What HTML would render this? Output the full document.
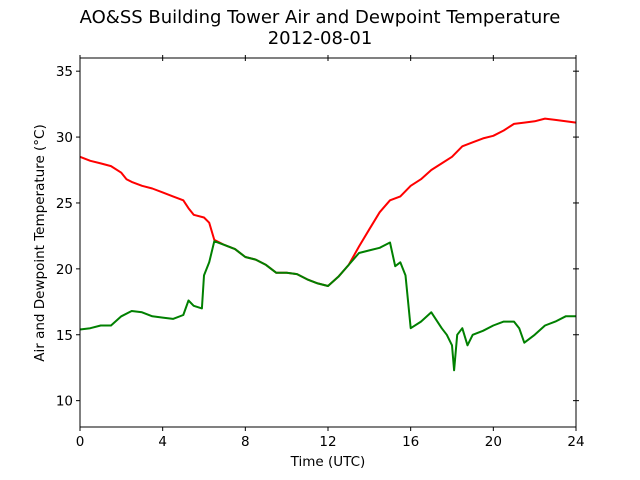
<!DOCTYPE html>
<html><head><meta charset="utf-8"><style>
body{margin:0;background:#fff}
svg{display:block;font-family:"DejaVu Sans","Liberation Sans",sans-serif}
</style></head><body>
<svg id="chart" width="640" height="480" viewBox="0 0 640 480">
<rect width="640" height="480" fill="#fff"/>
<text x="320" y="23" text-anchor="middle" font-size="18">AO&amp;SS Building Tower Air and Dewpoint Temperature</text>
<text x="320" y="44" text-anchor="middle" font-size="18">2012-08-01</text>
<g id="plot"></g>
<text x="328" y="466" text-anchor="middle" font-size="13.5">Time (UTC)</text>
<text transform="translate(44,243) rotate(-90)" text-anchor="middle" font-size="13.5">Air and Dewpoint Temperature (°C)</text>
</svg>
<script>
const airTimes=[0,0.5,1,1.5,2,2.25,2.5,3,3.5,4,4.5,5,5.25,5.5,6,6.25,6.5,7,7.5,8,8.5,9,9.5,10,10.5,11,11.5,12,12.5,13,13.5,14,14.5,15,15.5,16,16.5,17,17.5,18,18.5,19,19.5,20,20.5,21,21.5,22,22.5,23,23.5,24];
const airValues=[28.5,28.2,28.0,27.8,27.3,26.8,26.6,26.3,26.1,25.8,25.5,25.2,24.6,24.1,23.9,23.5,22.2,21.8,21.5,20.9,20.7,20.3,19.7,19.7,19.6,19.2,18.9,18.7,19.4,20.3,21.7,23.0,24.3,25.2,25.5,26.3,26.8,27.5,28.0,28.5,29.3,29.6,29.9,30.1,30.5,31.0,31.1,31.2,31.4,31.3,31.2,31.1];
const dewTimes=[0,0.5,1,1.5,2,2.5,3,3.5,4,4.5,5,5.25,5.5,5.9,6,6.25,6.5,7,7.5,8,8.5,9,9.5,10,10.5,11,11.5,12,12.5,13,13.5,14,14.5,15,15.25,15.5,15.75,16,16.5,17,17.5,17.75,18,18.1,18.25,18.5,18.75,19,19.5,20,20.5,21,21.25,21.5,22,22.5,23,23.5,24];
const dewValues=[15.4,15.5,15.7,15.7,16.4,16.8,16.7,16.4,16.3,16.2,16.5,17.6,17.2,17.0,19.5,20.5,22.1,21.8,21.5,20.9,20.7,20.3,19.7,19.7,19.6,19.2,18.9,18.7,19.4,20.3,21.2,21.4,21.6,22.0,20.2,20.5,19.5,15.5,16.0,16.7,15.5,15.0,14.2,12.3,15.0,15.5,14.2,15.0,15.3,15.7,16.0,16.0,15.5,14.4,15.0,15.7,16.0,16.4,16.4];
const xTicks=[0,4,8,12,16,20,24];
const yTicks=[10,15,20,25,30,35];
const X0=80,X1=576,Y0=427,Y1=58,xmin=0,xmax=24,ymin=8,ymax=36;
const sx=v=>X0+(v-xmin)/(xmax-xmin)*(X1-X0);
const sy=v=>Y0-(v-ymin)/(ymax-ymin)*(Y0-Y1);
const NS='http://www.w3.org/2000/svg';
const g=document.getElementById('plot');
function mk(t,a){const e=document.createElementNS(NS,t);for(const k in a)e.setAttribute(k,a[k]);g.appendChild(e);return e;}
function line(ts,vs,c,name){
  const d=ts.map((t,i)=>(i?'L':'M')+sx(t).toFixed(1)+','+sy(vs[i]).toFixed(1)).join('');
  const p=mk('path',{d:d,fill:'none',stroke:c,'stroke-width':2,'stroke-linejoin':'round'});
  
  
}
line(airTimes,airValues,'#ff0000','air-temperature-line');
line(dewTimes,dewValues,'#008000','dewpoint-line');
const fr=mk('rect',{x:X0,y:Y1,width:X1-X0,height:Y0-Y1,fill:'none',stroke:'#000','stroke-width':1});


xTicks.forEach(v=>{
  const x=sx(v);
  const t=mk('line',{x1:x,x2:x,y1:Y0,y2:Y0+4,stroke:'#000'});
  
  
  const t2=mk('line',{x1:x,x2:x,y1:Y1-3,y2:Y1+3,stroke:'#000'});
  
  
  const l=mk('text',{x:x,y:Y0+19,'text-anchor':'middle','font-size':13.5});
  l.textContent=v;
  
  
});
yTicks.forEach(v=>{
  const y=sy(v);
  const t=mk('line',{x1:X0-4,x2:X0,y1:y,y2:y,stroke:'#000'});
  
  
  const t2=mk('line',{x1:X1-3,x2:X1+3,y1:y,y2:y,stroke:'#000'});
  
  
  const l=mk('text',{x:X0-7,y:y+5,'text-anchor':'end','font-size':13.5});
  l.textContent=v;
  
  
});
</script>
</body></html>
